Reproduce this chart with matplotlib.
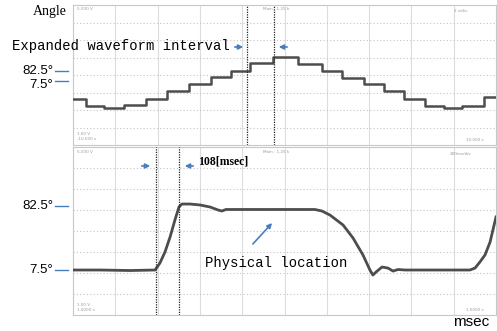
import numpy as np
import matplotlib
matplotlib.use('Agg')
import matplotlib.pyplot as plt

# top trace: staircase, 2 s/div, level in divisions
top_edges_s = [0, 0.61, 1.47, 2.41, 3.45, 4.44, 5.48, 6.52, 7.47, 8.37, 9.46,
               10.64, 11.77, 12.72, 13.76, 14.70, 15.65, 16.64, 17.54, 18.39, 19.43, 20.0]
top_levels = [2.63, 2.23, 2.11, 2.29, 2.63, 3.09, 3.49, 3.89, 4.23, 4.69, 5.03,
              4.63, 4.23, 3.83, 3.49, 3.09, 2.63, 2.23, 2.11, 2.23, 2.74]
top_markers_s = [8.23, 9.50]

# bottom trace: expanded, 200 ms/div, angle in degrees
bot_t_ms = [0, 128, 270, 388, 411, 435, 459, 482, 501, 515, 553, 600, 648, 686, 704,
            723, 790, 1144, 1177, 1215, 1277, 1324, 1371, 1404, 1418, 1433, 1461,
            1489, 1513, 1537, 1570, 1877, 1901, 1924, 1948, 1972, 2000]
bot_angle = [7.5, 7.5, 6.9, 7.5, 15.7, 28.6, 46.2, 66.1, 81.3, 84.8, 84.8, 83.7, 81.3,
             77.8, 76.6, 78.4, 78.4, 78.4, 76.6, 71.9, 60.2, 45.0, 25.1, 7.5, 1.6,
             5.2, 11.0, 9.8, 6.3, 8.1, 7.5, 7.5, 9.8, 16.9, 25.1, 40.3, 69.6]
bot_markers_ms = [392, 500]

angle_labels = ['82.5°', '7.5°']
bot_label_y = [82.5, 7.5]
top_label_y = [4.23, 3.43]
top_dash_y = [4.23, 3.66]

blue = '#4a7ebb'
trace = '#4d4d4d'
serif = ['Liberation Serif', 'DejaVu Serif']
mono = ['Liberation Mono', 'DejaVu Sans Mono']
narrow = ['Liberation Sans Narrow', 'Liberation Sans', 'DejaVu Sans']

fig = plt.figure(figsize=(4.97, 3.31), dpi=100)
ax1 = fig.add_axes([73 / 497, 186 / 331, 423 / 497, 140 / 331])
ax2 = fig.add_axes([73 / 497, 16 / 331, 423 / 497, 168 / 331])


def scope_grid(ax, xlim, ylim):
    ax.set_xlim(xlim)
    ax.set_ylim(ylim)
    for x in np.linspace(xlim[0], xlim[1], 11)[1:-1]:
        ax.axvline(x, color='#dcdcdc', lw=0.8, zorder=0)
    for y in np.linspace(ylim[0], ylim[1], 9)[1:-1]:
        ax.axhline(y, color='#c4c4c4', lw=0.8, ls=(0, (1, 2)), zorder=0)
    ax.set_xticks([])
    ax.set_yticks([])
    for s in ax.spines.values():
        s.set_color('#c8c8c8')
        s.set_linewidth(0.8)


scope_grid(ax1, (0, 20), (0, 8))
scope_grid(ax2, (0, 2000), (-45.2, 151.6))

ax1.plot(top_edges_s, top_levels + [top_levels[-1]], drawstyle='steps-post',
         color=trace, lw=1.8, zorder=3)
ax2.plot(bot_t_ms, bot_angle, color=trace, lw=2, zorder=3)

for m in top_markers_s:
    ax1.axvline(m, color='#222222', lw=0.9, ls=(0, (1, 1)), zorder=4)
for m in bot_markers_ms:
    ax2.axvline(m, color='#222222', lw=0.9, ls=(0, (1, 1)), zorder=4)

# angle labels with short blue dashes left of the screen
tr1 = ax1.get_yaxis_transform()
tr2 = ax2.get_yaxis_transform()
for lab, yl, yd in zip(angle_labels, top_label_y, top_dash_y):
    ax1.plot([-0.043, -0.012], [yd, yd], color=blue, lw=1, transform=tr1, clip_on=False)
    ax1.text(-0.047, yl, lab, transform=tr1, ha='right', va='center',
             fontsize=9.5, family=narrow)
for lab, y in zip(angle_labels, bot_label_y):
    ax2.plot([-0.043, -0.012], [y, y], color=blue, lw=1, transform=tr2, clip_on=False)
    ax2.text(-0.047, y, lab, transform=tr2, ha='right', va='center',
             fontsize=9.5, family=narrow)

fig.text(33 / 497, 1 - 12 / 331, 'Angle', fontsize=10, family=serif, va='center')
fig.text(471 / 497, 1 - 322 / 331, 'msec', fontsize=11, family=narrow[1:],
         ha='center', va='center')

# annotations
fig.text(12 / 497, 1 - 46 / 331, 'Expanded waveform interval', fontsize=10,
         family=mono, va='center')
arrow = dict(arrowstyle='-|>', color=blue, lw=1.2, mutation_scale=7)
ax1.annotate('', xy=(246, 331 - 47), xytext=(232, 331 - 47), xycoords='figure pixels',
             textcoords='figure pixels', arrowprops=arrow)
ax1.annotate('', xy=(276, 331 - 47), xytext=(290, 331 - 47), xycoords='figure pixels',
             textcoords='figure pixels', arrowprops=arrow)
ax2.annotate('', xy=(153, 331 - 166), xytext=(139, 331 - 166), xycoords='figure pixels',
             textcoords='figure pixels', arrowprops=arrow)
ax2.annotate('', xy=(182, 331 - 166), xytext=(196, 331 - 166), xycoords='figure pixels',
             textcoords='figure pixels', arrowprops=arrow)
fig.text(198 / 497, 1 - 161 / 331, '108[msec]', fontsize=8.5, family=serif,
         weight='bold', va='center')
fig.text(205 / 497, 1 - 263 / 331, 'Physical location', fontsize=10,
         family=mono, va='center')
ax2.annotate('', xy=(274, 331 - 221), xytext=(251, 331 - 246), xycoords='figure pixels',
             textcoords='figure pixels', arrowprops=arrow)

# faint scope readouts
small = dict(fontsize=3, color='#999999', family='DejaVu Sans')
ax1.text(0.01, 0.985, '5.000 V', transform=ax1.transAxes, va='top', **small)
ax1.text(0.45, 0.985, 'Main : 1.25 k', transform=ax1.transAxes, va='top', **small)
ax1.text(0.90, 0.975, '2 s/div', transform=ax1.transAxes, va='top', **small)
ax1.text(0.01, 0.03, '1.00 V\n-10.000 s', transform=ax1.transAxes, va='bottom', **small)
ax1.text(0.93, 0.02, '10.000 s', transform=ax1.transAxes, va='bottom', **small)
ax2.text(0.01, 0.985, '5.000 V', transform=ax2.transAxes, va='top', **small)
ax2.text(0.45, 0.985, 'Main : 1.25 k', transform=ax2.transAxes, va='top', **small)
ax2.text(0.89, 0.97, '200ms/div', transform=ax2.transAxes, va='top', **small)
ax2.text(0.01, 0.02, '1.00 V\n1.0000 s', transform=ax2.transAxes, va='bottom', **small)
ax2.text(0.93, 0.02, '1.0000 s', transform=ax2.transAxes, va='bottom', **small)

fig.savefig('out.png', dpi=100)
